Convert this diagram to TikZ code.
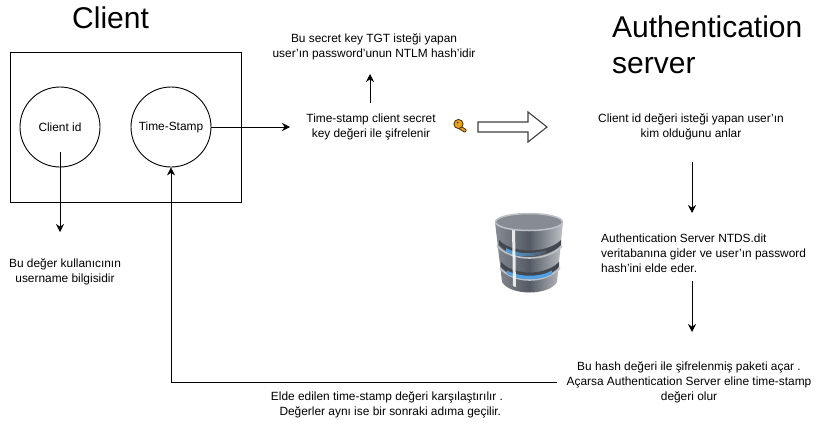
\documentclass[tikz,border=0pt]{standalone}
\usepackage{fontspec}
\setmainfont{Liberation Sans}[Ligatures=ResetAll]
\usetikzlibrary{arrows.meta}
\tikzset{
    flowline/.style={-{Stealth[length=8pt,width=8pt]},line width=0.9pt},
    blocktext/.style={align=center,inner sep=0pt,font=\fontsize{11.9}{15}\selectfont},
    titletext/.style={align=left,inner sep=0pt,font=\fontsize{30}{36}\selectfont},
    token/.style={shape=circle,draw=black,line width=0.9pt,minimum size=80pt,inner sep=0pt,font=\fontsize{11.9}{15}\selectfont},
}
\definecolor{dbdark}{RGB}{84,90,100}
\definecolor{dbmid}{RGB}{135,140,147}
\definecolor{dblight}{RGB}{190,194,198}
\definecolor{dbblue}{RGB}{80,160,225}
\definecolor{keygold}{RGB}{232,160,30}
\begin{document}
\begin{tikzpicture}[x=1pt,y=-1pt]
    \useasboundingbox (0,0) rectangle (827,426);

    \node[titletext,anchor=west] (clienttitle) at (72,18) {Client};
    \node[titletext,anchor=west] (servertitle) at (612,45) {Authentication\\server};

    \node[shape=rectangle,draw=black,line width=0.9pt,minimum width=231pt,minimum height=150pt,inner sep=0pt] (clientbox) at (125.5,127) {};
    \node[token] (clientid) at (60,127) {Client id};
    \node[token] (timestamp) at (171,127) {Time-Stamp};

    \node[blocktext] (usernote) at (65,272) {Bu değer kullanıcının\\username bilgisidir};
    \node[blocktext] (keynote) at (374,47) {Bu secret key TGT isteği yapan\\user'ın password'unun NTLM hash'idir};
    \node[blocktext] (encrypt) at (371,127) {Time-stamp client secret\\key değeri ile şifrelenir};
    \node[blocktext] (whois) at (691,127) {Client id değeri isteği yapan user'ın\\kim olduğunu anlar};
    \node[blocktext,align=left,anchor=west] (ntds) at (601,253) {Authentication Server NTDS.dit\\veritabanına gider ve user'ın password\\hash'ini elde eder.};
    \node[blocktext] (openpkg) at (689,382.5) {Bu hash değeri ile şifrelenmiş paketi açar .\\Açarsa Authentication Server eline time-stamp\\değeri olur};
    \node[blocktext] (compare) at (387,405) {Elde edilen time-stamp değeri karşılaştırılır .\\\ \ Değerler aynı ise bir sonraki adıma geçilir.};

    \coordinate (idstart) at (60,152);
    \coordinate (idend) at (60,232);
    \coordinate (stampend) at (290,127);
    \coordinate (notestart) at (370,103);
    \coordinate (noteend) at (370,74);
    \coordinate (whoisstart) at (692,162);
    \coordinate (whoisend) at (692,213);
    \coordinate (ntdsstart) at (692,281);
    \coordinate (ntdsend) at (692,332);
    \coordinate (backstart) at (557,382);

    \path [flowline] (idstart) edge (idend);
    \path [flowline] (timestamp) edge (stampend);
    \path [flowline] (notestart) edge (noteend);
    \path [flowline] (whoisstart) edge (whoisend);
    \path [flowline] (ntdsstart) edge (ntdsend);
    \draw [flowline] (backstart) -| (timestamp);

    \draw[draw=black!75,line width=1.1pt,fill=white,line join=miter] (478,122) -- (528,122) -- (528,112) -- (547,127) -- (528,142) -- (528,132) -- (478,132) -- cycle;

    \draw[draw=black!70!keygold,fill=keygold,line width=0.8pt,rounded corners=0.8pt] (460,125.5) -- (466.5,130) -- (465,132.5) -- (458,128) -- cycle;
    \draw[draw=black!70!keygold,fill=keygold,line width=0.8pt] (458.5,124) circle[radius=4.6];
    \fill[black!70] (457.5,122.5) circle[radius=1];

    \shade[left color=dbmid,right color=dblight,middle color=dbdark] (495,222) -- (502,282) .. controls (510,296) and (549,296) .. (557,282) -- (563,222) -- cycle;
    \draw[dblight,line width=1.6pt] (497,246) .. controls (512,262) and (547,262) .. (562,246);
    \draw[dblight,line width=1.6pt] (500,268) .. controls (514,284) and (545,284) .. (560,268);
    \fill[dbdark!80!black] (499,240) .. controls (512,254) and (547,254) .. (561,240) -- (561,245) .. controls (547,260) and (512,260) .. (499,245) -- cycle;
    \fill[dbdark!80!black] (501,262) .. controls (514,276) and (545,276) .. (559,262) -- (559,267) .. controls (545,282) and (514,282) .. (501,267) -- cycle;
    \shade[left color=dbblue,right color=dbdark] (506,248) .. controls (516,254) and (532,255) .. (546,250) -- (546,253) .. controls (532,258) and (516,257) .. (506,251.5) -- cycle;
    \fill[dbblue] (507,270.5) .. controls (520,277.5) and (540,277.5) .. (552,270.5) -- (552,274) .. controls (540,281) and (520,281) .. (507,274) -- cycle;
    \fill[white,opacity=0.85] (512,228) -- (515,228) -- (516,287) -- (513,286) -- cycle;
    \draw[draw=dblight,fill=dbmid,line width=1.5pt] (529,222) ellipse[x radius=33.5,y radius=8.5];
\end{tikzpicture}
\end{document}
